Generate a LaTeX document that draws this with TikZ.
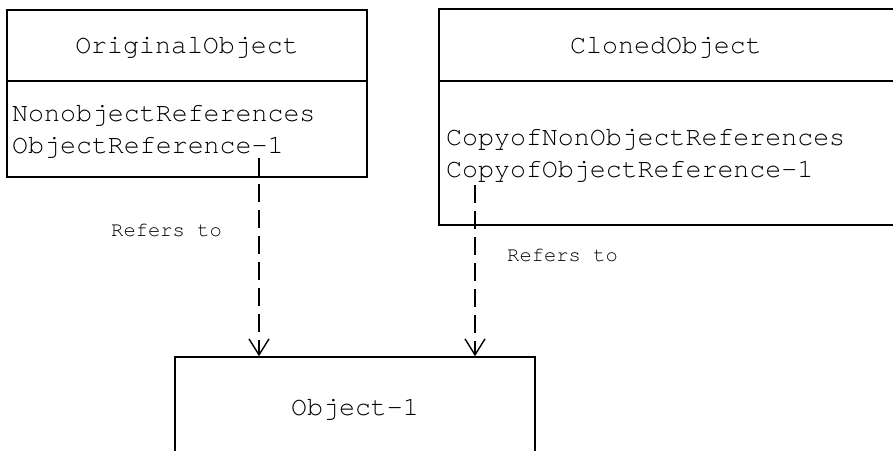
\documentclass[tikz,border=0pt]{standalone}
\usepackage{fontspec}
\usetikzlibrary{arrows.meta}
\newfontfamily\mainmono{texgyrecursor-regular.otf}
\newfontfamily\labmono{texgyrecursor-regular.otf}
\begin{document}
\begin{tikzpicture}[x=1pt,y=-1pt,
  box/.style={draw=black,line width=1.6pt,rectangle,inner sep=0pt},
  txt/.style={font=\mainmono\fontsize{26.6}{30}\selectfont,anchor=base west,inner sep=0pt},
  ttl/.style={font=\mainmono\fontsize{26.6}{30}\selectfont,anchor=base,inner sep=0pt},
  lab/.style={font=\labmono\fontsize{20.5}{24}\selectfont,anchor=base west,inner sep=0pt},
  ref/.style={line width=1.4pt,dash pattern=on 18pt off 8pt,-{Straight Barb[length=16pt,width=20pt,line width=1.4pt]}}]
\useasboundingbox (0,0) rectangle (893,450);
% original object
\node[box,minimum width=360pt,minimum height=167pt] (orig) at (187,93.5) {};
\draw[line width=1.6pt] (orig.west |- 0,81) -- (orig.east |- 0,81);
\node[ttl] (origt) at (187,53) {OriginalObject};
\node[txt] (origa) at (12,121) {NonobjectReferences};
\node[txt] (origb) at (12,153) {ObjectReference-1};
% cloned object
\node[box,minimum width=456pt,minimum height=216pt] (clon) at (667,117) {};
\draw[line width=1.6pt] (clon.west |- 0,81) -- (clon.east |- 0,81);
\node[ttl] (clont) at (666,53) {ClonedObject};
\node[txt] (clona) at (446,145) {CopyofNonObjectReferences};
\node[txt] (clonb) at (446,177) {CopyofObjectReference-1};
% object-1
\node[box,minimum width=360pt,minimum height=140pt] (obj) at (355,427) {};
\node[ttl] (objt) at (355,415) {Object-1};
% references
\coordinate (r1) at (259,158);
\coordinate (r2) at (475,185);
\draw[ref] (r1) -- (r1 |- obj.north);
\draw[ref] (r2) -- (r2 |- obj.north);
\node[lab] (l1) at (111,236) {Refers to};
\node[lab] (l2) at (507,261) {Refers to};
\end{tikzpicture}
\end{document}
